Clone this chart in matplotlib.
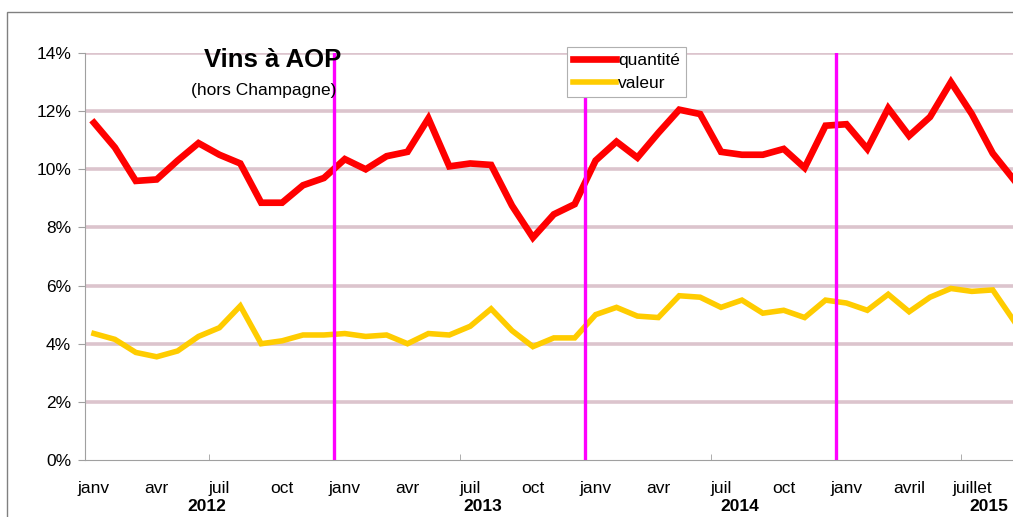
import matplotlib
matplotlib.use("Agg")
import matplotlib.pyplot as plt
from matplotlib.patches import Rectangle

plt.rcParams['font.family'] = ['Liberation Sans', 'DejaVu Sans']

# Monthly series, janv 2012 .. sept 2015 (in %)
quantite = [11.6, 10.75, 9.6, 9.65, 10.3, 10.9, 10.5, 10.2, 8.85, 8.85, 9.45, 9.7,
            10.35, 10.0, 10.45, 10.6, 11.75, 10.1, 10.2, 10.15, 8.75, 7.65, 8.45, 8.8,
            10.3, 10.95, 10.4, 11.25, 12.05, 11.9, 10.6, 10.5, 10.5, 10.7, 10.05, 11.5,
            11.55, 10.7, 12.1, 11.15, 11.8, 13.0, 11.9, 10.55, 9.65]
valeur = [4.35, 4.15, 3.7, 3.55, 3.75, 4.25, 4.55, 5.3, 4.0, 4.1, 4.3, 4.3,
          4.35, 4.25, 4.3, 4.0, 4.35, 4.3, 4.6, 5.2, 4.45, 3.9, 4.2, 4.2,
          5.0, 5.25, 4.95, 4.9, 5.65, 5.6, 5.25, 5.5, 5.05, 5.15, 4.9, 5.5,
          5.4, 5.15, 5.7, 5.1, 5.6, 5.9, 5.8, 5.85, 4.8]

month_ticks = [0, 3, 6, 9, 12, 15, 18, 21, 24, 27, 30, 33, 36, 39, 42]
month_labels = ['janv', 'avr', 'juil', 'oct', 'janv', 'avr', 'juil', 'oct',
                'janv', 'avr', 'juil', 'oct', 'janv', 'avril', 'juillet']
year_labels = ['2012', '2013', '2014', '2015']
year_pos = [5.4, 18.6, 30.9, 42.8]
year_breaks = [11.5, 23.5, 35.5]
y_ticks = [0, 2, 4, 6, 8, 10, 12, 14]

W, H = 1013, 517
fig = plt.figure(figsize=(W / 100, H / 100), dpi=100)

# outer chart frame (cropped on right/bottom)
fig.patches.append(Rectangle((7 / W, -0.1), 1.2, 1 - 12 / H + 0.1, transform=fig.transFigure,
                             fill=False, edgecolor='#808080', linewidth=1.0))

ax = fig.add_axes([85 / W, 1 - 460 / H, (W - 85) / W, (460 - 53) / H])

for v in y_ticks[1:]:
    ax.axhline(v, color='#dcc4cd', linewidth=2.6, zorder=1)

x = list(range(len(quantite)))
ax.plot(x, quantite, color='#ff0000', linewidth=4.8, solid_joinstyle='miter',
        label='quantité', zorder=3)
ax.plot(x, valeur, color='#ffcc00', linewidth=4.0, solid_joinstyle='miter',
        label='valeur', zorder=3)

for b in year_breaks:
    ax.axvline(b, color='#ff00ff', linewidth=2.4, zorder=4)

for s in ['top', 'right']:
    ax.spines[s].set_visible(False)
ax.spines['left'].set_color('#a0a0a0')
ax.spines['bottom'].set_color('#a0a0a0')

ax.set_yticks(y_ticks)
ax.set_yticklabels([f'{v}%' for v in y_ticks], fontsize=12.5)
ax.tick_params(axis='y', length=5, color='#a0a0a0', pad=5)

ax.set_xticks(month_ticks)
ax.set_xticklabels(month_labels, fontsize=12.5)
ax.tick_params(axis='x', length=0, pad=15)
ax.set_xticks([5.5 + 6 * k for k in range(7)], minor=True)
ax.tick_params(axis='x', which='minor', direction='in', length=4, color='#a0a0a0')

ax.set_xlim(-0.43, 43.97)
ax.set_ylim(0, 14)

for lab, p in zip(year_labels, year_pos):
    ax.text(p, -0.095, lab, transform=ax.get_xaxis_transform(), ha='center', va='top',
            fontsize=12.5, fontweight='bold')

fig.text(273 / W, 1 - 60 / H, 'Vins à AOP', ha='center', va='center',
         fontsize=18.5, fontweight='bold')
fig.text(264 / W, 1 - 90 / H, '(hors Champagne)', ha='center', va='center', fontsize=12.5)

leg = ax.legend(loc='upper left', bbox_to_anchor=(567 / W, 1 - 47 / H),
                bbox_transform=fig.transFigure, fontsize=12.5, frameon=True,
                fancybox=False, edgecolor='#b0b0b0', framealpha=1,
                handlelength=2.5, handletextpad=0.1, borderpad=0.35,
                labelspacing=0.45, borderaxespad=0)
leg.get_frame().set_linewidth(0.8)
leg.set_zorder(6)

fig.savefig('out.png', dpi=100)
